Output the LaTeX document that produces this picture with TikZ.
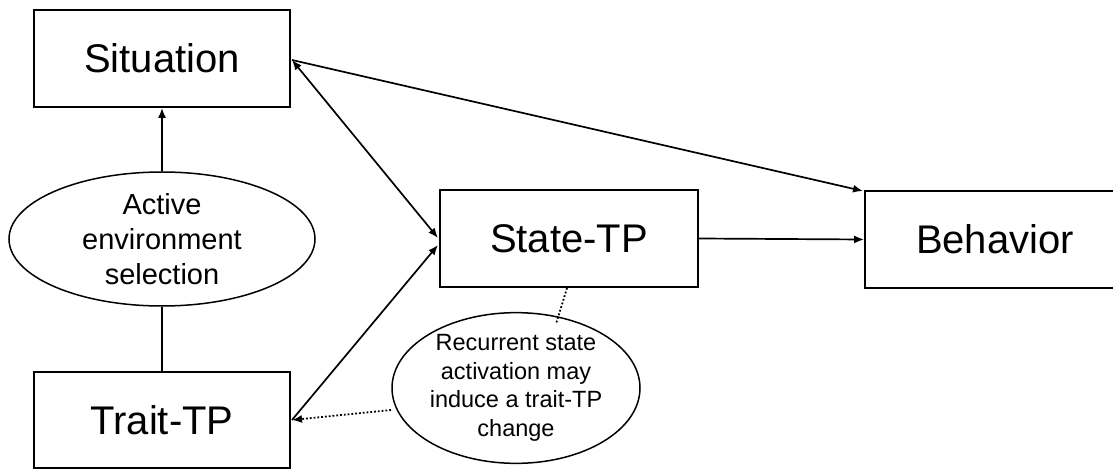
\documentclass[tikz,border=0pt]{standalone}
\usepackage{fontspec}
\setmainfont{Liberation Sans}
\usetikzlibrary{shapes.geometric,arrows.meta}
\begin{document}
\begin{tikzpicture}[x=1pt,y=-1pt,
  box/.style={draw, line width=1.8pt, inner sep=0pt, font=\fontsize{40}{42}\selectfont},
  oval/.style={draw, ellipse, line width=1.5pt, inner sep=0pt, align=center},
  conn/.style={line width=1.7pt, -{Latex[length=10pt,width=8pt]}},
  dots/.style={line width=1.8pt, dotted},
]
\useasboundingbox (0,0) rectangle (1113,470);
\node[box, minimum width=256pt, minimum height=97pt] (sit) at (162,58.5) {Situation};
\node[box, minimum width=256pt, minimum height=96pt] (trait) at (162,420) {Trait-TP};
\node[box, minimum width=258pt, minimum height=97pt] (state) at (569,238.5) {State-TP};
\node[box, minimum width=260pt, minimum height=97pt] (beh) at (995,239.5) {Behavior};
\node[oval, minimum width=306pt, minimum height=134pt,
  font=\fontsize{29}{35}\selectfont] (aes) at (162,239) {Active\\environment\\selection};
\node[oval, minimum width=248pt, minimum height=130pt,
  font=\fontsize{23.5}{28.5}\selectfont] (rsa) at (516,388) {Recurrent state\\activation may\\induce a trait-TP\\change};
\coordinate (sitR) at (292,60);
\coordinate (stateL1) at (438,238);
\coordinate (stateL2) at (438,245);
\coordinate (traitR) at (292,420);
\coordinate (behT) at (863,191);
\coordinate (stateB) at (567,288);
\coordinate (rsaT) at (556,324);
\coordinate (rsaL) at (391,410);
\draw[conn, {Latex[length=10pt,width=8pt]}-{Latex[length=10pt,width=8pt]}] (sitR) -- (stateL1);
\draw[conn] (sitR) -- (behT);
\draw[conn] (traitR) -- (stateL2);
\draw[conn] (state.east) -- (beh.west);
\draw[conn] (aes.north) -- (sit.south);
\draw[line width=1.7pt] (trait.north) -- (aes.south);
\draw[dots] (stateB) -- (rsaT);
\draw[dots, -{Latex[length=10pt,width=8pt]}] (rsaL) -- (traitR);
\end{tikzpicture}
\end{document}
